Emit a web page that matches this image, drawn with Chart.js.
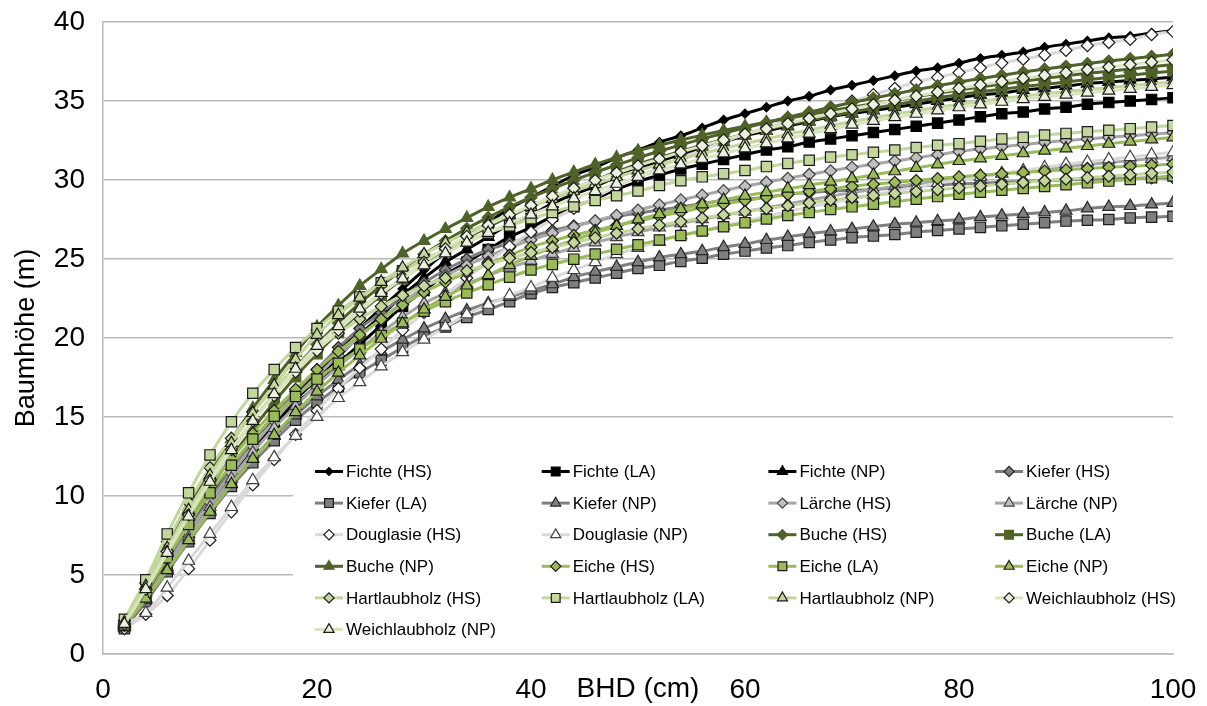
<!DOCTYPE html>
<html>
<head>
<meta charset="utf-8">
<title>Baumhöhe</title>
<script src="https://cdn.jsdelivr.net/npm/chart.js@4.4.1/dist/chart.umd.min.js"></script>
<style>
  html, body { margin: 0; padding: 0; background: #fff; }
  canvas { display: block; }
</style>
</head>
<body>
<canvas id="chart" width="1207" height="706"></canvas>
<script>
// BHD (cm) - x values
const dbh = [2,4,6,8,10,12,14,16,18,20,22,24,26,28,30,32,34,36,38,40,42,44,46,48,50,
  52,54,56,58,60,62,64,66,68,70,72,74,76,78,80,82,84,86,88,90,92,94,96,98,100];

// Baumhöhe (m) per species / method
const fichteHS = [1.8,3.6,5.7,7.9,9.9,11.8,13.5,15.0,16.5,17.8,19.2,20.6,21.9,23.1,24.3,25.4,26.4,27.3,28.2,28.9,29.6,30.3,30.8,31.4,31.9,32.4,32.8,33.3,33.8,34.2,34.6,35.0,35.3,35.7,36.0,36.3,36.6,36.9,37.1,37.4,37.7,37.9,38.1,38.4,38.6,38.8,39.0,39.1,39.3,39.45];
const fichteLA = [1.7,3.4,5.4,7.5,9.4,11.2,12.9,14.4,15.8,17.0,18.4,19.6,20.8,22.0,23.0,24.0,24.8,25.6,26.4,27.0,27.7,28.3,28.8,29.4,29.9,30.3,30.7,31.0,31.3,31.6,31.9,32.1,32.4,32.6,32.8,33.0,33.2,33.4,33.6,33.8,34.0,34.2,34.3,34.5,34.6,34.8,34.9,35.0,35.1,35.2];
const fichteNP = [1.7,3.5,5.5,7.6,9.5,11.4,13.1,14.6,16.1,17.4,18.8,20.2,21.4,22.7,23.8,24.8,25.6,26.4,27.2,27.8,28.5,29.1,29.6,30.2,30.7,31.2,31.6,32.0,32.4,32.8,33.1,33.4,33.7,34.0,34.2,34.4,34.6,34.8,35.0,35.2,35.4,35.5,35.7,35.8,35.95,36.1,36.2,36.3,36.4,36.5];
const kieferHS = [1.8,3.7,5.8,7.9,9.8,11.7,13.5,15.1,16.6,18.0,19.4,20.6,21.6,22.6,23.5,24.3,25.0,25.6,26.0,26.4,26.8,27.1,27.4,27.7,27.9,28.1,28.3,28.5,28.7,28.8,28.9,29.1,29.2,29.3,29.35,29.4,29.5,29.6,29.7,29.75,29.8,29.85,29.9,29.95,30.0,30.04,30.07,30.1,30.13,30.15];
const kieferLA = [1.6,3.3,5.2,7.1,8.9,10.6,12.1,13.5,14.8,15.9,16.9,17.8,18.6,19.4,20.1,20.7,21.3,21.8,22.3,22.8,23.2,23.5,23.8,24.1,24.4,24.6,24.85,25.05,25.3,25.5,25.7,25.85,26.05,26.2,26.35,26.45,26.55,26.7,26.8,26.9,27.0,27.1,27.2,27.3,27.4,27.45,27.5,27.6,27.65,27.7];
const kieferNP = [1.7,3.4,5.3,7.2,9.1,10.8,12.4,13.8,15.1,16.3,17.35,18.3,19.15,19.9,20.6,21.2,21.75,22.2,22.6,23.0,23.4,23.85,24.2,24.5,24.8,25.1,25.3,25.5,25.75,25.95,26.2,26.4,26.6,26.75,26.9,27.05,27.2,27.3,27.4,27.5,27.65,27.75,27.85,27.95,28.05,28.2,28.3,28.35,28.45,28.55];
const laercheHS = [1.8,3.6,5.6,7.7,9.6,11.45,13.15,14.75,16.25,17.6,18.9,20.1,21.2,22.25,23.2,23.95,24.6,25.18,25.72,26.2,26.64,27.04,27.41,27.77,28.1,28.43,28.74,29.04,29.33,29.6,29.86,30.11,30.35,30.58,30.8,31.0,31.2,31.4,31.6,31.8,31.96,32.11,32.25,32.38,32.5,32.6,32.7,32.8,32.9,33.0];
const laercheNP = [1.8,3.5,5.4,7.4,9.3,11.1,12.75,14.3,15.7,17.0,18.2,19.3,20.35,21.32,22.2,22.85,23.43,23.95,24.45,24.9,25.32,25.7,26.05,26.38,26.7,26.99,27.26,27.52,27.77,28.0,28.25,28.49,28.73,28.97,29.2,29.4,29.59,29.77,29.94,30.1,30.26,30.41,30.56,30.71,30.85,30.98,31.1,31.22,31.34,31.45];
const douglasieHS = [1.6,2.5,3.7,5.4,7.2,9.0,10.7,12.3,13.9,15.4,16.8,18.1,19.3,20.5,21.6,22.7,23.8,24.8,25.8,26.7,27.5,28.2,28.9,29.6,30.2,30.8,31.4,31.9,32.4,32.9,33.3,33.8,34.2,34.6,35.0,35.4,35.8,36.2,36.5,36.8,37.1,37.4,37.65,37.9,38.2,38.5,38.7,38.9,39.2,39.4];
const douglasieNP = [1.9,2.6,4.2,5.9,7.6,9.3,11.0,12.45,13.8,15.0,16.2,17.2,18.2,19.1,19.9,20.7,21.5,22.1,22.7,23.2,23.8,24.3,24.8,25.3,25.7,26.1,26.5,26.8,27.1,27.4,27.7,28.0,28.3,28.55,28.8,29.05,29.3,29.55,29.8,30.0,30.2,30.4,30.6,30.8,31.0,31.15,31.3,31.45,31.6,31.75];
const bucheHS = [1.8,3.9,6.3,8.7,10.9,12.9,14.75,16.45,18.1,19.6,20.95,22.2,23.3,24.35,25.3,26.15,26.93,27.63,28.3,28.9,29.46,29.98,30.48,30.95,31.4,31.82,32.22,32.6,32.96,33.3,33.64,33.97,34.29,34.6,34.9,35.18,35.45,35.71,35.96,36.2,36.42,36.63,36.83,37.02,37.2,37.37,37.53,37.68,37.82,37.95];
const bucheLA = [1.8,3.8,6.1,8.4,10.5,12.45,14.25,15.95,17.55,19.0,20.35,21.6,22.7,23.75,24.7,25.55,26.33,27.03,27.7,28.3,28.9,29.46,29.99,30.51,31.0,31.42,31.82,32.2,32.56,32.9,33.21,33.5,33.78,34.05,34.3,34.54,34.77,34.99,35.2,35.4,35.58,35.75,35.91,36.06,36.2,36.35,36.49,36.63,36.77,36.9];
const bucheNP = [1.9,4.3,6.9,9.3,11.5,13.6,15.55,17.35,19.05,20.7,22.05,23.3,24.35,25.35,26.15,26.9,27.6,28.3,28.9,29.45,30.0,30.5,30.98,31.43,31.85,32.2,32.53,32.84,33.13,33.4,33.66,33.91,34.15,34.38,34.6,34.83,35.05,35.27,35.49,35.7,35.89,36.07,36.25,36.43,36.6,36.75,36.89,37.03,37.17,37.3];
const eicheHS = [1.9,4.0,6.3,8.5,10.6,12.35,13.95,15.4,16.75,18.0,19.15,20.2,21.18,22.1,22.9,23.54,24.14,24.7,25.24,25.75,26.15,26.5,26.82,27.12,27.4,27.7,27.98,28.24,28.48,28.7,28.9,29.09,29.27,29.44,29.6,29.73,29.85,29.97,30.09,30.2,30.3,30.39,30.48,30.57,30.65,30.73,30.8,30.87,30.94,31.0];
const eicheLA = [1.8,3.9,6.1,8.2,10.2,11.95,13.6,15.05,16.3,17.4,18.4,19.3,20.15,20.95,21.7,22.3,22.85,23.37,23.85,24.3,24.66,24.99,25.31,25.61,25.9,26.2,26.49,26.77,27.04,27.3,27.53,27.75,27.95,28.13,28.3,28.47,28.63,28.79,28.95,29.1,29.23,29.35,29.47,29.59,29.7,29.82,29.93,30.04,30.15,30.25];
const eicheNP = [1.8,3.5,5.3,7.2,9.0,10.75,12.35,13.85,15.3,16.6,17.8,18.9,19.95,20.92,21.8,22.6,23.32,23.98,24.61,25.2,25.72,26.2,26.66,27.09,27.5,27.84,28.16,28.46,28.74,29.0,29.23,29.45,29.67,29.89,30.1,30.33,30.55,30.77,30.99,31.2,31.37,31.53,31.69,31.85,32.0,32.15,32.29,32.43,32.57,32.7];
const hartHS = [2.1,4.5,7.1,9.6,11.8,13.65,15.3,16.8,18.15,19.3,20.3,21.2,22.0,22.7,23.3,23.8,24.25,24.67,25.05,25.4,25.73,26.04,26.34,26.63,26.9,27.14,27.37,27.59,27.8,28.0,28.19,28.37,28.55,28.73,28.9,29.03,29.15,29.27,29.39,29.5,29.62,29.73,29.84,29.95,30.05,30.15,30.24,30.33,30.42,30.5];
const hartLA = [2.2,4.7,7.6,10.2,12.6,14.7,16.5,18.0,19.4,20.6,21.7,22.6,23.5,24.25,24.95,25.6,26.15,26.65,27.1,27.55,27.95,28.35,28.7,29.0,29.3,29.65,29.95,30.2,30.4,30.6,30.85,31.05,31.25,31.45,31.6,31.75,31.9,32.05,32.2,32.3,32.45,32.6,32.7,32.85,32.95,33.05,33.15,33.25,33.35,33.45];
const hartNP = [2.0,4.3,6.7,9.1,11.3,13.35,15.25,17.0,18.65,20.2,21.45,22.55,23.55,24.45,25.3,26.02,26.67,27.25,27.8,28.3,28.8,29.28,29.74,30.18,30.6,30.98,31.34,31.68,32.0,32.3,32.6,32.89,33.17,33.44,33.7,33.94,34.17,34.39,34.6,34.8,34.98,35.15,35.31,35.46,35.6,35.73,35.85,35.97,36.09,36.2];
const weichHS = [1.9,4.1,6.5,8.8,11.0,12.95,14.75,16.35,17.85,19.2,20.5,21.7,22.8,23.85,24.8,25.65,26.43,27.13,27.8,28.4,28.96,29.48,29.98,30.45,30.9,31.34,31.76,32.16,32.54,32.9,33.24,33.57,33.89,34.2,34.5,34.78,35.05,35.31,35.56,35.8,36.02,36.23,36.43,36.62,36.8,36.98,37.15,37.31,37.46,37.6];
const weichNP = [1.9,4.1,6.4,8.7,10.9,12.9,14.75,16.45,18.05,19.5,20.75,21.85,22.85,23.75,24.6,25.35,26.03,26.65,27.25,27.8,28.33,28.83,29.3,29.76,30.2,30.6,30.98,31.34,31.68,32.0,32.32,32.63,32.93,33.22,33.5,33.74,33.97,34.19,34.4,34.6,34.78,34.95,35.11,35.26,35.4,35.53,35.65,35.77,35.89,36.0];

// label, values, line colour, marker fill, marker edge, marker shape, marker radius
const series = [
  ['Fichte (HS)', fichteHS, '#000000', '#000000', '#000000', 'rectRot', 4.6],
  ['Fichte (LA)', fichteLA, '#000000', '#000000', '#000000', 'rect', 7.3],
  ['Fichte (NP)', fichteNP, '#000000', '#000000', '#000000', 'triangle', 6.9],
  ['Kiefer (HS)', kieferHS, '#7f7f7f', '#7f7f7f', '#262626', 'rectRot', 6],
  ['Kiefer (LA)', kieferLA, '#7f7f7f', '#7f7f7f', '#1a1a1a', 'rect', 7.3],
  ['Kiefer (NP)', kieferNP, '#7f7f7f', '#7f7f7f', '#262626', 'triangle', 6.9],
  ['Lärche (HS)', laercheHS, '#a6a6a6', '#bfbfbf', '#404040', 'rectRot', 6],
  ['Lärche (NP)', laercheNP, '#a6a6a6', '#bfbfbf', '#404040', 'triangle', 6.9],
  ['Douglasie (HS)', douglasieHS, '#d9d9d9', '#ffffff', '#1a1a1a', 'rectRot', 6],
  ['Douglasie (NP)', douglasieNP, '#d9d9d9', '#ffffff', '#404040', 'triangle', 6.9],
  ['Buche (HS)', bucheHS, '#4f6228', '#4f6228', '#4f6228', 'rectRot', 6],
  ['Buche (LA)', bucheLA, '#4f6228', '#4f6228', '#4f6228', 'rect', 7.3],
  ['Buche (NP)', bucheNP, '#4f6228', '#4f6228', '#4f6228', 'triangle', 6.9],
  ['Eiche (HS)', eicheHS, '#9bbb59', '#9bbb59', '#1a1a1a', 'rectRot', 6],
  ['Eiche (LA)', eicheLA, '#9bbb59', '#9bbb59', '#1a1a1a', 'rect', 7.3],
  ['Eiche (NP)', eicheNP, '#9bbb59', '#9bbb59', '#1a1a1a', 'triangle', 6.9],
  ['Hartlaubholz (HS)', hartHS, '#c3d69b', '#c3d69b', '#1a1a1a', 'rectRot', 6],
  ['Hartlaubholz (LA)', hartLA, '#c3d69b', '#c3d69b', '#1a1a1a', 'rect', 7.3],
  ['Hartlaubholz (NP)', hartNP, '#c3d69b', '#c3d69b', '#1a1a1a', 'triangle', 6.9],
  ['Weichlaubholz (HS)', weichHS, '#d7e4bd', '#ebf1de', '#1a1a1a', 'rectRot', 6],
  ['Weichlaubholz (NP)', weichNP, '#d7e4bd', '#ebf1de', '#1a1a1a', 'triangle', 6.9],
];

const FONT = 'Liberation Sans, Arial, sans-serif';
const GRID = '#b9b9b9';

const datasets = series.map(([label, vals, line, fill, edge, shape, r], i) => ({
  label,
  data: vals.map((v, k) => ({ x: dbh[k], y: v })),
  borderColor: line,
  backgroundColor: fill,
  borderWidth: 3,
  pointStyle: shape,
  pointRadius: r,
  pointHoverRadius: r,
  pointBackgroundColor: fill,
  pointBorderColor: edge,
  pointBorderWidth: 1.2,
  cubicInterpolationMode: 'monotone',
  fill: false,
  order: -i, // later series on top, like the original
}));

// legend drawn inside the plot, 4 columns
const insideLegend = {
  id: 'insideLegend',
  afterDatasetsDraw(chart) {
    const ctx = chart.ctx;
    ctx.save();
    ctx.fillStyle = '#ffffff';
    ctx.fillRect(293, 449, 890, 196);
    ctx.font = '17px ' + FONT;
    ctx.textBaseline = 'middle';
    chart.data.datasets.forEach((ds, i) => {
      const x0 = 315 + (i % 4) * 226.7;
      const y = 471.5 + Math.floor(i / 4) * 31.6;
      ctx.strokeStyle = ds.borderColor;
      ctx.lineWidth = 3;
      ctx.beginPath();
      ctx.moveTo(x0, y);
      ctx.lineTo(x0 + 28, y);
      ctx.stroke();
      ctx.fillStyle = ds.pointBackgroundColor;
      ctx.strokeStyle = ds.pointBorderColor;
      ctx.lineWidth = 1.2;
      Chart.helpers.drawPoint(ctx, {
        pointStyle: ds.pointStyle, rotation: 0, radius: ds.pointRadius * 0.85, borderWidth: 1.2,
      }, x0 + 14, y);
      ctx.fillStyle = '#000000';
      ctx.fillText(ds.label, x0 + 31, y + 1);
    });
    ctx.restore();
  },
};

new Chart(document.getElementById('chart'), {
  type: 'line',
  data: { datasets },
  plugins: [insideLegend],
  options: {
    responsive: false,
    animation: false,
    events: [],
    layout: { padding: { left: 0, right: 34, top: 22, bottom: 0 } },
    plugins: { legend: { display: false }, tooltip: { enabled: false } },
    scales: {
      x: {
        type: 'linear',
        min: 0,
        max: 100,
        ticks: { stepSize: 20, padding: 19, color: '#000', font: { family: FONT, size: 28 } },
        grid: { display: false, drawTicks: false },
        border: { display: true, color: GRID, width: 1.5 },
        title: { display: true, text: 'BHD (cm)', color: '#000', padding: 0, font: { family: FONT, size: 28 } },
        afterFit(scale) {
          scale.height = 52;
          scale.paddingLeft = 0;
          scale.paddingRight = 0;
        },
      },
      y: {
        min: 0,
        max: 40,
        ticks: { stepSize: 5, padding: 18, color: '#000', font: { family: FONT, size: 28 } },
        grid: { color: GRID, lineWidth: 1.5, drawTicks: false },
        border: { display: true, color: GRID, width: 1.5 },
        title: { display: true, text: 'Baumhöhe (m)', color: '#000', padding: { top: 10, bottom: 0 }, font: { family: FONT, size: 27 } },
        afterFit(scale) {
          scale.width = 103;
          scale.paddingTop = 0;
          scale.paddingBottom = 0;
        },
      },
    },
  },
});
</script>
</body>
</html>
